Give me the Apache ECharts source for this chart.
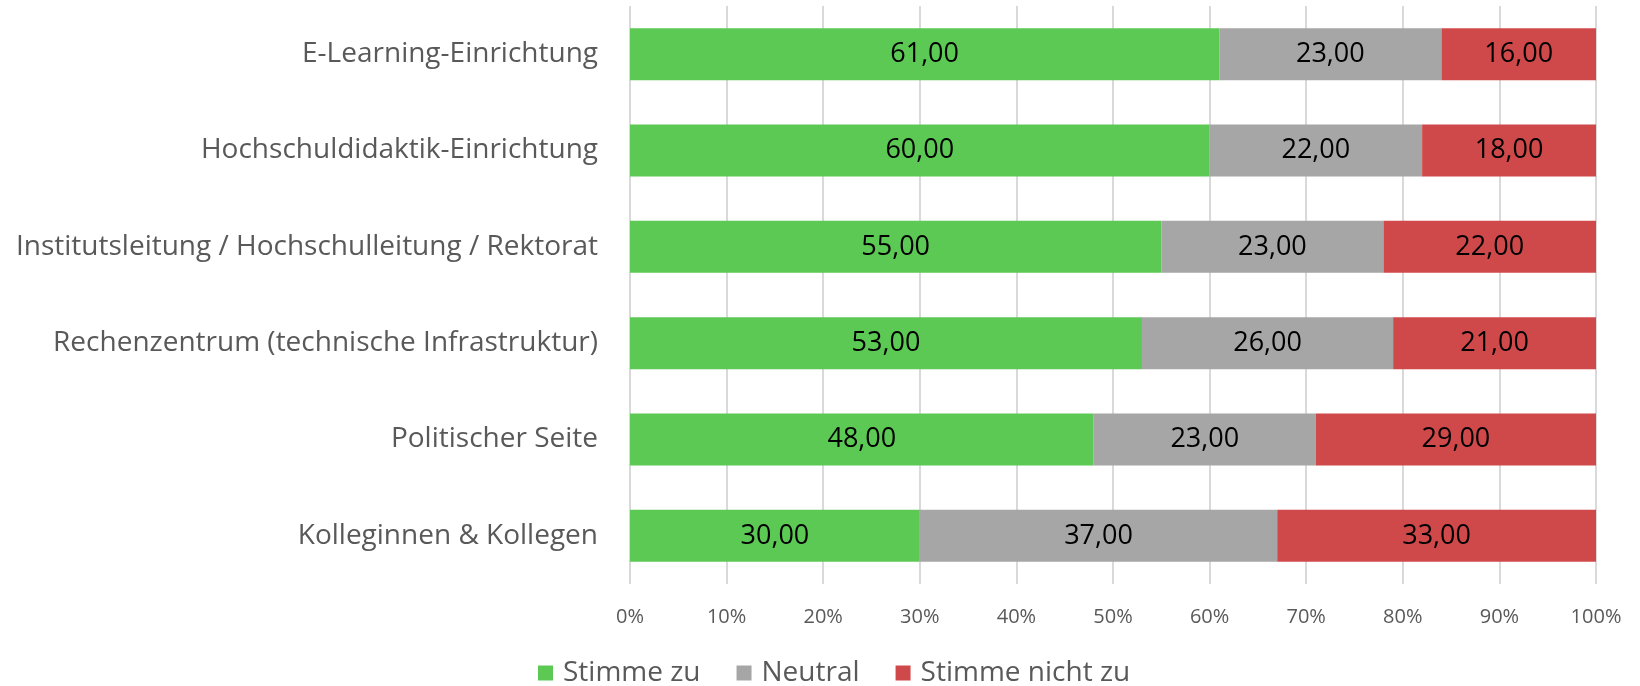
<!DOCTYPE html>
<html>
<head>
<meta charset="utf-8">
<script src="https://cdn.jsdelivr.net/npm/echarts@6/dist/echarts.min.js"></script>
<style>
  html, body { margin: 0; padding: 0; background: #fff; }
  #chart { width: 1640px; height: 686px; }
</style>
</head>
<body>
<div id="chart"></div>
<script>
// Survey categories, top to bottom
const categories = [
  'E-Learning-Einrichtung',
  'Hochschuldidaktik-Einrichtung',
  'Institutsleitung / Hochschulleitung / Rektorat',
  'Rechenzentrum (technische Infrastruktur)',
  'Politischer Seite',
  'Kolleginnen & Kollegen'
];
const seriesNames = ['Stimme zu', 'Neutral', 'Stimme nicht zu'];
const agree    = [61, 60, 55, 53, 48, 30];
const neutral  = [23, 22, 23, 26, 23, 37];
const disagree = [16, 18, 22, 21, 29, 33];
const colors = ['#5cc955', '#a6a6a6', '#d0494a'];

const FONT = '"Open Sans", "Noto Sans", sans-serif';

function makeSeries(name, data, color) {
  return {
    name: name,
    type: 'bar',
    stack: 'total',
    data: data,
    barCategoryGap: '46%',
    itemStyle: { color: color },
    label: {
      show: true,
      position: 'inside',
      color: '#000',
      fontFamily: FONT,
      fontSize: 27,
      formatter: p => p.value.toFixed(2).replace('.', ',')
    },
    emphasis: { disabled: true }
  };
}

const chart = echarts.init(document.getElementById('chart'));
chart.setOption({
  animation: false,
  textStyle: { fontFamily: FONT },
  grid: { left: 630, right: 44, top: 6, bottom: 102 },
  legend: {
    bottom: -6,
    left: 533,
    itemWidth: 15,
    itemHeight: 15,
    itemGap: 36,
    icon: 'rect',
    textStyle: { fontFamily: FONT, fontSize: 28, color: '#595959', padding: [0, 0, 0, 5] },
    data: seriesNames
  },
  xAxis: {
    type: 'value',
    min: 0,
    max: 100,
    interval: 10,
    axisLine: { show: false },
    axisTick: { show: false },
    splitLine: { show: true, lineStyle: { color: '#d9d9d9', width: 2 } },
    axisLabel: {
      formatter: '{value}%',
      color: '#595959',
      fontFamily: FONT,
      fontSize: 20,
      margin: 23
    }
  },
  yAxis: {
    type: 'category',
    inverse: true,
    data: categories,
    axisLine: { show: false },
    axisTick: { show: false },
    axisLabel: {
      color: '#595959',
      fontFamily: FONT,
      fontSize: 28,
      margin: 32
    }
  },
  series: [
    makeSeries(seriesNames[0], agree, colors[0]),
    makeSeries(seriesNames[1], neutral, colors[1]),
    makeSeries(seriesNames[2], disagree, colors[2])
  ]
});
</script>
</body>
</html>
